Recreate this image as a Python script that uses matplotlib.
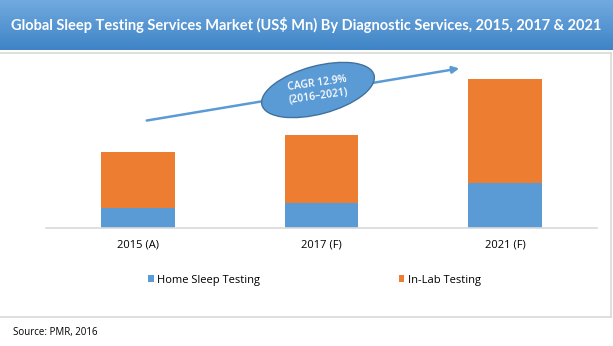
import numpy as np
import matplotlib
matplotlib.use("Agg")
from matplotlib import pyplot as plt
from matplotlib.patches import Ellipse
from matplotlib.colors import LinearSegmentedColormap

# data (relative units)
categories = ["2015 (A)", "2017 (F)", "2021 (F)"]
home_sleep = [20, 25, 45]
in_lab = [56, 68, 104]
series_names = ["Home Sleep Testing", "In-Lab Testing"]

BLUE = "#5b9bd5"
ORANGE = "#ed7d31"
GRID = "#d9d9d9"

plt.rcParams["font.family"] = ["Open Sans", "DejaVu Sans"]

fig = plt.figure(figsize=(6.13, 3.46), dpi=100)

# overlay in pixel coords for decorations
deco = fig.add_axes([0, 0, 1, 1], zorder=0)
deco.axis("off")

# title band with vertical gradient
cmap = LinearSegmentedColormap.from_list("band", ["#72aae0", "#3e84c6"])
grad = np.linspace(0, 1, 100).reshape(-1, 1)
deco.imshow(grad, cmap=cmap, aspect="auto", extent=(0, 613, 50, 0), zorder=0)
deco.set_xlim(0, 613)
deco.set_ylim(346, 0)
deco.text(306, 25, "Global Sleep Testing Services Market (US$ Mn) By Diagnostic Services, 2015, 2017 & 2021",
          ha="center", va="center", color="white", fontsize=10.5, fontweight="bold",
          family=["Lato", "DejaVu Sans"])

# chart frame lines
deco.plot([0, 611], [53, 53], color=GRID, lw=1.2)
deco.plot([0, 611], [317, 317], color=GRID, lw=1.2)
deco.plot([611, 611], [53, 317], color=GRID, lw=1.2)

# source
deco.text(13, 333, "Source: PMR, 2016", ha="left", va="center", fontsize=7, color="black")

# bar chart
ax = fig.add_axes([46 / 613, 1 - 228 / 346, 551 / 613, 168 / 346], zorder=1)
ax.patch.set_alpha(0)
x = np.arange(len(categories))
ax.bar(x, home_sleep, width=0.4, color=BLUE, label=series_names[0])
ax.bar(x, in_lab, width=0.4, bottom=home_sleep, color=ORANGE, label=series_names[1])
ax.set_xlim(-0.5, 2.5)
ax.set_ylim(0, 168)
ax.set_xticks(x)
ax.set_xticklabels(categories, fontsize=8)
ax.tick_params(axis="x", length=0, pad=8)
ax.set_yticks([])
for s in ["top", "right", "left"]:
    ax.spines[s].set_visible(False)
ax.spines["bottom"].set_color(GRID)
ax.spines["bottom"].set_linewidth(1.2)

fig.legend(loc="center", bbox_to_anchor=(0.513, 1 - 280 / 346), ncol=2, frameon=False,
           fontsize=8, handlelength=0.5, handleheight=0.5, handletextpad=0.3,
           columnspacing=12.5)

# CAGR arrow and ellipse on top
top = fig.add_axes([0, 0, 1, 1], zorder=2)
top.set_xlim(0, 613)
top.set_ylim(346, 0)
top.axis("off")
top.annotate("", xy=(462, 68), xytext=(144, 121),
             arrowprops=dict(arrowstyle="-|>", color=BLUE, lw=1.8, mutation_scale=10))
top.add_patch(Ellipse((318, 90), 116, 48, angle=-15, facecolor=BLUE,
                      edgecolor="#41719c", lw=1.0, zorder=3))
top.text(318, 90, "CAGR 12.9%\n(2016\u20132021)", ha="center", va="center", rotation=8,
         color="white", fontsize=7.5, fontweight="semibold", linespacing=1.3, zorder=4)

fig.savefig("out.png", dpi=100)
